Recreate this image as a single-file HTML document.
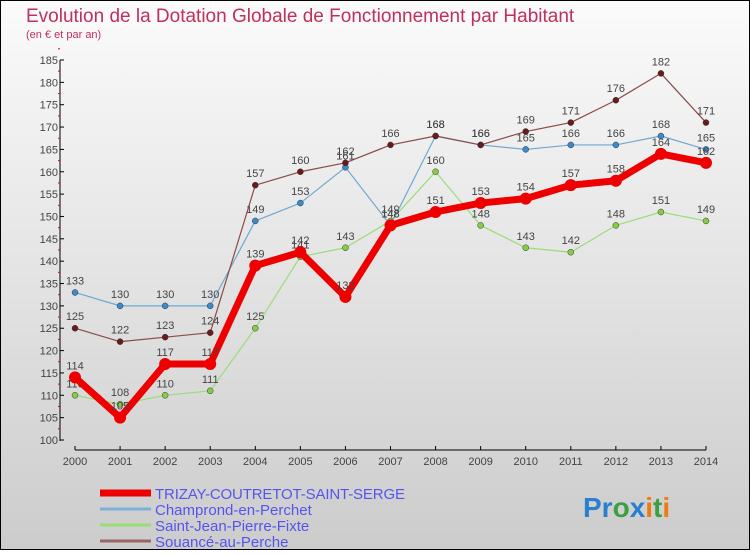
<!DOCTYPE html>
<html><head><meta charset="utf-8"><style>
body{margin:0;}
#c{width:750px;height:550px;position:relative;font-family:"Liberation Sans",sans-serif;}
</style></head><body>
<div id="c">
<svg id="s" width="750" height="550" xmlns="http://www.w3.org/2000/svg">
<defs><linearGradient id="bg" x1="0" y1="0" x2="0" y2="1"><stop offset="0" stop-color="#fbfbfb"/><stop offset="1" stop-color="#cccccc"/></linearGradient></defs>
<rect x="0.5" y="0.5" width="749" height="549" fill="url(#bg)" stroke="#000"/>
<text x="26" y="22" font-size="19" fill="#c0305a">Evolution de la Dotation Globale de Fonctionnement par Habitant</text>
<text x="26" y="38" font-size="11" fill="#c0305a">(en € et par an)</text>
<g id="axes"></g><g id="series"></g><g id="legend"></g>
<text x="583" y="517" font-size="28" font-weight="bold"><tspan fill="#2a7fd0">Pr</tspan><tspan fill="#3aa040">o</tspan><tspan fill="#2a7fd0">x</tspan><tspan fill="#f07a10">i</tspan><tspan fill="#3aa040">t</tspan><tspan fill="#f07a10">i</tspan></text>
</svg></div>
<script>
const years=[2000,2001,2002,2003,2004,2005,2006,2007,2008,2009,2010,2011,2012,2013,2014];
const yTicks=[100,105,110,115,120,125,130,135,140,145,150,155,160,165,170,175,180,185];
const trizay=[114,105,117,117,139,142,132,148,151,153,154,157,158,164,162];
const champrond=[133,130,130,130,149,153,161,148,168,166,165,166,166,168,165];
const saintJean=[110,108,110,111,125,141,143,149,160,148,143,142,148,151,149];
const souance=[125,122,123,124,157,160,162,166,168,166,169,171,176,182,171];
const NS="http://www.w3.org/2000/svg";
function X(i){return 75+i*(706-75)/(years.length-1);}
function Y(v){return 440-(v-100)*(380/85);}
function mk(t,a,p){const e=document.createElementNS(NS,t);for(const k in a)e.setAttribute(k,a[k]);(p||document.getElementById('series')).appendChild(e);return e;}
const ax=document.getElementById('axes');
let e=mk('line',{x1:60,y1:Y(185),x2:60,y2:Y(100)+1,stroke:'#000'},ax);


yTicks.forEach(v=>{mk('line',{x1:60,y1:Y(v),x2:64,y2:Y(v),stroke:'#000'},ax);
 mk('line',{x1:58,y1:Y(v+2.5),x2:60,y2:Y(v+2.5),stroke:'#e00'},ax);
 const t=mk('text',{x:58,y:Y(v)+4,'font-size':11,fill:'#444','text-anchor':'end'},ax);t.textContent=v;
 
 });
e=mk('line',{x1:75,y1:450,x2:706,y2:450,stroke:'#000'},ax);


years.forEach((y,i)=>{mk('line',{x1:X(i),y1:446,x2:X(i),y2:450,stroke:'#000'},ax);
 const t=mk('text',{x:X(i),y:465,'font-size':11,fill:'#444','text-anchor':'middle'},ax);t.textContent=y;
 
 });
function series(d,col,dot,w,r,name){
 const g=mk('g',{});
 
 
 mk('polyline',{points:d.map((v,i)=>X(i)+','+Y(v)).join(' '),fill:'none',stroke:col,'stroke-width':w,'stroke-linejoin':'round'},g);
 d.forEach((v,i)=>{const c=mk('circle',{cx:X(i),cy:Y(v),r:r,fill:dot,stroke:'#333','stroke-width':w>3?0:0.5},g);
  
  
  const t=mk('text',{x:X(i),y:Y(v)-8,'font-size':11,fill:'#444','text-anchor':'middle'},g);t.textContent=v;
  
  });
}
series(saintJean,'#99dd77','#88cc44',1.2,3,'saint-jean-series');
series(champrond,'#6fa8d0','#3a8acc',1.2,3,'champrond-series');
series(souance,'#8a4a4a','#6a1a1a',1.2,3,'souance-series');
series(trizay,'#ee0000','#ee0000',7,6,'trizay-series');
const lg=document.getElementById('legend');
const names=['TRIZAY-COUTRETOT-SAINT-SERGE','Champrond-en-Perchet','Saint-Jean-Pierre-Fixte','Souancé-au-Perche'];
const cols=['#ee0000','#7fb0d8','#99dd77','#996666'];const ws=[7,3,3,3];
names.forEach((n,i)=>{const y=493+i*16;
 const l=mk('line',{x1:100,y1:y,x2:151,y2:y,stroke:cols[i],'stroke-width':ws[i]},lg);
 
 
 const t=mk('text',{x:155,y:y+6,'font-size':15,fill:'#5555ee',textLength:n.length>25?250:0},lg);
 if(n.length<=25)t.removeAttribute('textLength');
 t.textContent=n;
 
 });
</script>
</body></html>
